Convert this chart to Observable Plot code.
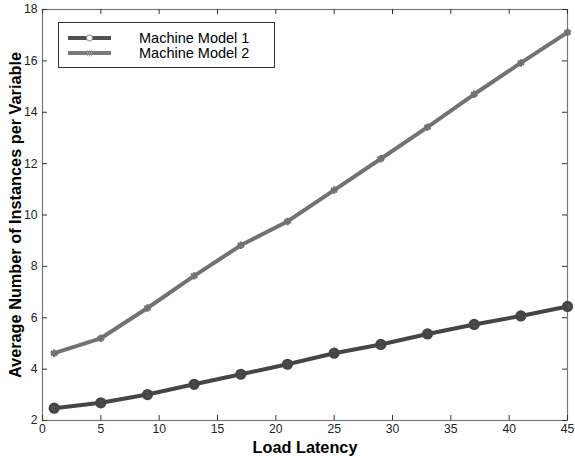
<!DOCTYPE html>
<html>
<head>
<meta charset="utf-8">
<script src="https://cdn.jsdelivr.net/npm/d3@7"></script>
<script src="https://cdn.jsdelivr.net/npm/@observablehq/plot@0.6"></script>
<style>
  html, body { margin: 0; padding: 0; background: #fff; }
  #chart { position: relative; width: 575px; height: 456px; font-family: "Liberation Sans", Arial, sans-serif; }
  #legend { position: absolute; left: 58px; top: 22px; width: 217px; height: 46px; border: 1px solid #333; background: #fff; box-sizing: border-box; }
  #legend .row { position: absolute; left: 0; height: 16px; display: flex; align-items: center; }
  #legend svg { margin-left: 9px; }
  #legend span { margin-left: 28px; font-size: 14.5px; color: #000; }
</style>
</head>
<body>
<div id="chart"></div>
<script>
// Load latency values shared by both series
const latency = [1, 5, 9, 13, 17, 21, 25, 29, 33, 37, 41, 45];
// Average number of instances per variable
const model1 = [2.48, 2.69, 3.01, 3.41, 3.80, 4.19, 4.62, 4.96, 5.37, 5.74, 6.07, 6.44];
const model2 = [4.62, 5.20, 6.38, 7.63, 8.82, 9.75, 10.97, 12.19, 13.42, 14.70, 15.92, 17.11];
const seriesNames = ["Machine Model 1", "Machine Model 2"];
const xTicks = [0, 5, 10, 15, 20, 25, 30, 35, 40, 45];
const yTicks = [2, 4, 6, 8, 10, 12, 14, 16, 18];

const rows1 = latency.map((x, i) => ({x, y: model1[i]}));
const rows2 = latency.map((x, i) => ({x, y: model2[i]}));

const W = 575, H = 456;
const mL = 42, mR = 8, mT = 9, mB = 36;
const innerW = W - mL - mR, innerH = H - mT - mB;
const tickLen = 5;
const axisGray = "#777";
const c1 = "#454545", c2 = "#727272";

const plot = Plot.plot({
  width: W,
  height: H,
  marginLeft: mL,
  marginRight: mR,
  marginTop: mT,
  marginBottom: mB,
  style: {fontFamily: "Liberation Sans, Arial, sans-serif", fontSize: "12.2px", color: "#222", background: "#fff"},
  x: {domain: [0, 45]},
  y: {domain: [2, 18]},
  marks: [
    Plot.frame({stroke: axisGray, strokeWidth: 1.2}),
    // inward tick marks on all four sides
    Plot.tickX(xTicks, {x: d => d, insetTop: innerH - tickLen, stroke: "#333"}),
    Plot.tickX(xTicks, {x: d => d, insetBottom: innerH - tickLen, stroke: "#333"}),
    Plot.tickY(yTicks, {y: d => d, insetRight: innerW - tickLen, stroke: "#333"}),
    Plot.tickY(yTicks, {y: d => d, insetLeft: innerW - tickLen, stroke: "#333"}),
    Plot.axisX({ticks: xTicks, tickSize: 0, tickPadding: 4, label: null, fill: "#222"}),
    Plot.axisY({ticks: yTicks, tickSize: 0, tickPadding: 5, label: null, fill: "#222"}),
    Plot.text(["Average Number of Instances per Variable"], {
      frameAnchor: "left", dx: -27, rotate: -90, textAnchor: "middle", lineAnchor: "middle",
      fontWeight: "bold", fontSize: 16.3, fill: "#000"
    }),
    Plot.text(["Load Latency"], {
      frameAnchor: "bottom", dy: 27, textAnchor: "middle", lineAnchor: "middle",
      fontWeight: "bold", fontSize: 16.3, fill: "#000"
    }),
    // Machine Model 2
    Plot.line(rows2, {x: "x", y: "y", stroke: c2, strokeWidth: 4}),
    Plot.dot(rows2, {x: "x", y: "y", symbol: "asterisk", r: 3.5, stroke: c2, strokeWidth: 2.5}),
    // Machine Model 1
    Plot.line(rows1, {x: "x", y: "y", stroke: c1, strokeWidth: 4}),
    Plot.dot(rows1, {x: "x", y: "y", r: 3.8, stroke: c1, strokeWidth: 3.6, fill: "none"})
  ]
});

const chart = document.getElementById("chart");
chart.appendChild(plot);

// Legend box in the upper-left corner of the plot
const legend = document.createElement("div");
legend.id = "legend";
const legendItems = [
  {name: seriesNames[0], color: "#505050", marker: "circle", top: 7},
  {name: seriesNames[1], color: "#7a7a7a", marker: "asterisk", top: 22}
];
for (const item of legendItems) {
  const row = document.createElement("div");
  row.className = "row";
  row.style.top = item.top + "px";
  const ns = "http://www.w3.org/2000/svg";
  const svg = document.createElementNS(ns, "svg");
  svg.setAttribute("width", 43);
  svg.setAttribute("height", 16);
  const line = document.createElementNS(ns, "line");
  line.setAttribute("x1", 0); line.setAttribute("x2", 43);
  line.setAttribute("y1", 8); line.setAttribute("y2", 8);
  line.setAttribute("stroke", item.color);
  line.setAttribute("stroke-width", 4);
  svg.appendChild(line);
  if (item.marker === "circle") {
    const c = document.createElementNS(ns, "circle");
    c.setAttribute("cx", 21.5); c.setAttribute("cy", 8); c.setAttribute("r", 3);
    c.setAttribute("fill", "#fff"); c.setAttribute("stroke", "#888"); c.setAttribute("stroke-width", 1);
    svg.appendChild(c);
  } else {
    const p = document.createElementNS(ns, "path");
    p.setAttribute("d", "M19.5,5V11M21.5,4.5V11.5M23.5,5V11");
    p.setAttribute("stroke", "#999"); p.setAttribute("stroke-width", 0.8);
    svg.appendChild(p);
  }
  row.appendChild(svg);
  const label = document.createElement("span");
  label.textContent = item.name;
  row.appendChild(label);
  legend.appendChild(row);
}
chart.appendChild(legend);
</script>
</body>
</html>
